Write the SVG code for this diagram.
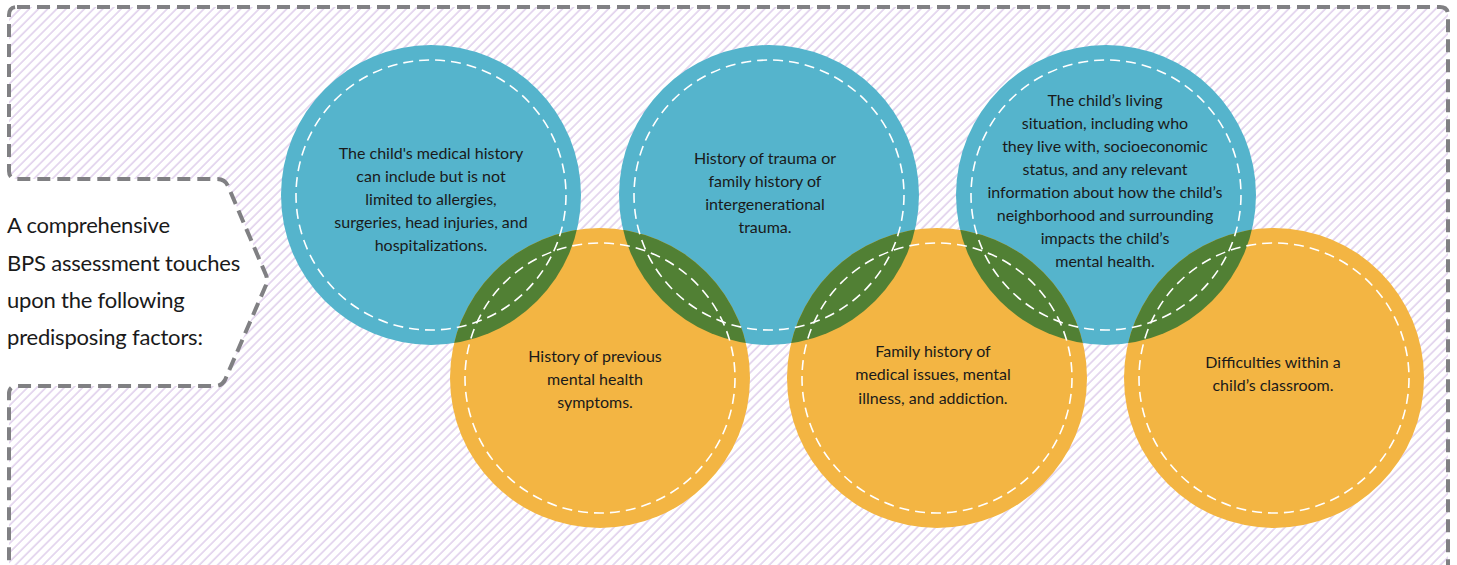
<svg xmlns="http://www.w3.org/2000/svg" width="1457" height="565" viewBox="0 0 1457 565">
<defs>
<pattern id="hatch" patternUnits="userSpaceOnUse" width="6.5" height="6.5" patternTransform="rotate(45)">
<line x1="1" y1="0" x2="1" y2="6.5" stroke="#dccae9" stroke-width="1.4"/>
</pattern>
<clipPath id="cB1"><circle cx="431" cy="195" r="150"/></clipPath>
<clipPath id="cB2"><circle cx="769" cy="195" r="150"/></clipPath>
<clipPath id="cB3"><circle cx="1106" cy="195" r="150"/></clipPath>
<style>
.blue{fill:#55b4cc}
.orange{fill:#f3b543}
.green{fill:#518034}
.ring{fill:none;stroke:#ffffff;stroke-width:1.6;stroke-dasharray:10 6}
.t{font-family:Lato,"Open Sans","Liberation Sans",sans-serif;font-size:16px;fill:#1a1a1a;text-anchor:middle}
.lbl{font-family:Lato,"Open Sans","Liberation Sans",sans-serif;font-size:22px;letter-spacing:-0.2px;fill:#1a1a1a}
.border{fill:url(#hatch);stroke:#808083;stroke-width:4;stroke-dasharray:13 7}
</style>
</defs>
<rect width="1457" height="565" fill="#ffffff"/>
<path class="border" d="M17,7 H1440 Q1448,7 1448,15 V572 H17 Q9,572 9,564 V394 Q9,386 17,386 H215 Q222,386 225,380 L266,285 Q268,280 266,275 L228,186 Q225,179 217,179 H17 Q9,179 9,171 V15 Q9,7 17,7 Z"/>
<g id="label">
<text class="lbl" x="7" y="233">A comprehensive</text>
<text class="lbl" x="7" y="271">BPS assessment touches</text>
<text class="lbl" x="7" y="308">upon the following</text>
<text class="lbl" x="7" y="345">predisposing factors:</text>
</g>
<g id="fills">
<circle class="blue" cx="431" cy="195" r="150"/>
<circle class="blue" cx="769" cy="195" r="150"/>
<circle class="blue" cx="1106" cy="195" r="150"/>
<circle class="orange" cx="600" cy="378" r="150"/>
<circle class="orange" cx="937" cy="378" r="150"/>
<circle class="orange" cx="1274" cy="378" r="150"/>
<circle class="green" cx="600" cy="378" r="150" clip-path="url(#cB1)"/>
<circle class="green" cx="600" cy="378" r="150" clip-path="url(#cB2)"/>
<circle class="green" cx="937" cy="378" r="150" clip-path="url(#cB2)"/>
<circle class="green" cx="937" cy="378" r="150" clip-path="url(#cB3)"/>
<circle class="green" cx="1274" cy="378" r="150" clip-path="url(#cB3)"/>
</g>
<g id="node-medical">
<circle class="ring" cx="431" cy="195" r="135"/>
<text class="t" x="431" y="159">The child's medical history</text>
<text class="t" x="431" y="182">can include but is not</text>
<text class="t" x="431" y="205">limited to allergies,</text>
<text class="t" x="431" y="228">surgeries, head injuries, and</text>
<text class="t" x="431" y="251">hospitalizations.</text>
</g>
<g id="node-trauma">
<circle class="ring" cx="769" cy="195" r="135"/>
<text class="t" x="765" y="164">History of trauma or</text>
<text class="t" x="765" y="187">family history of</text>
<text class="t" x="765" y="210">intergenerational</text>
<text class="t" x="765" y="233">trauma.</text>
</g>
<g id="node-living">
<circle class="ring" cx="1106" cy="195" r="135"/>
<text class="t" x="1105" y="106">The child’s living</text>
<text class="t" x="1105" y="129">situation, including who</text>
<text class="t" x="1105" y="152">they live with, socioeconomic</text>
<text class="t" x="1105" y="175">status, and any relevant</text>
<text class="t" x="1105" y="198">information about how the child’s</text>
<text class="t" x="1105" y="221">neighborhood and surrounding</text>
<text class="t" x="1105" y="244">impacts the child’s</text>
<text class="t" x="1105" y="267">mental health.</text>
</g>
<g id="node-mental">
<circle class="ring" cx="600" cy="378" r="135"/>
<text class="t" x="595" y="362">History of previous</text>
<text class="t" x="595" y="385">mental health</text>
<text class="t" x="595" y="408">symptoms.</text>
</g>
<g id="node-family">
<circle class="ring" cx="937" cy="378" r="135"/>
<text class="t" x="933" y="357">Family history of</text>
<text class="t" x="933" y="380">medical issues, mental</text>
<text class="t" x="933" y="404">illness, and addiction.</text>
</g>
<g id="node-classroom">
<circle class="ring" cx="1274" cy="378" r="135"/>
<text class="t" x="1273" y="368">Difficulties within a</text>
<text class="t" x="1273" y="391">child’s classroom.</text>
</g>
<g id="connectors"></g>
</svg>
